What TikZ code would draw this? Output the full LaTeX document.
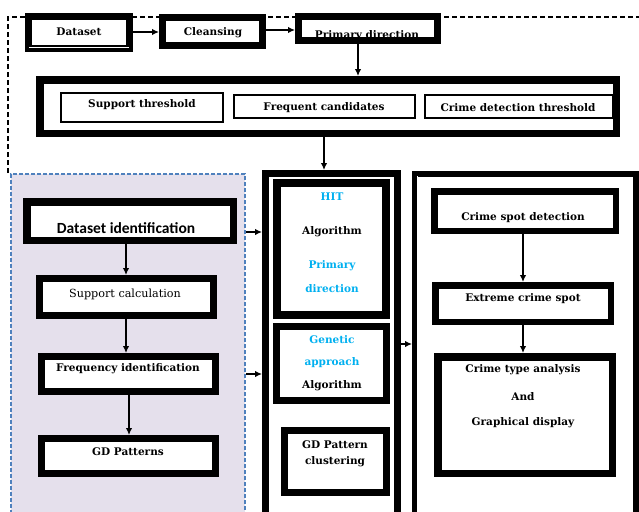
\documentclass[tikz,border=0pt]{standalone}
\usepackage{fontspec}
\setmainfont{DejaVu Serif}
\newfontfamily\calfont{Carlito}
\usetikzlibrary{arrows.meta}
\definecolor{lav}{RGB}{229,224,236}
\definecolor{dblue}{RGB}{79,129,189}
\definecolor{cyantxt}{RGB}{0,176,240}
\newcommand\bx[6]{\node[draw=black,fill=white,line width=#6pt,inner sep=0pt,
  minimum width={(#4-#2-#6)*1pt},minimum height={(#5-#3-#6)*1pt}] (#1) at ({(#2+#4)/2},{(#3+#5)/2}) {};}
\tikzset{
  lbl/.style={font=\fontsize{10.5}{12}\selectfont\bfseries,inner sep=0pt},
  cyl/.style={lbl,text=cyantxt},
  arr/.style={-{Latex[length=7pt,width=6.5pt]},line width=1.8pt},
}
\begin{document}
\begin{tikzpicture}[x=1pt,y=-1pt]
\clip (0,0) rectangle (639,511);
\fill[white] (0,0) rectangle (639,511);
% outer dashed frame
\coordinate (fa) at (8,173);
\coordinate (fb) at (8,17);
\coordinate (fc) at (645,17);
\draw[line width=1.8pt,dash pattern=on 5pt off 3pt] (fa) -- (fb) -- (fc);
% top row
\bx{ds}{25}{13}{133}{52}{7}
\draw[white,line width=0.8pt] (29,47) -- (129,47);
\node[lbl] (tds) at (79,32) {Dataset};
\bx{cl}{159}{14}{266}{49}{7}
\node[lbl] (tcl) at (213,33) {Cleansing};
\bx{pd}{295}{13}{441}{44}{7}
\node[lbl,anchor=base] (tpd) at (367,39) {Primary direction};
\fill (295,37) rectangle (441,44);
\draw[arr] (ds.east |- 0,32) -- (cl.west |- 0,32);
\draw[arr] (cl.east |- 0,30) -- (pd.west |- 0,30);
% threshold box
\bx{big}{36}{76}{620}{137}{7.5}
\draw[arr] (pd.south -| 358,0) -- (big.north -| 358,0);
\bx{st}{60}{92}{224}{123}{2}
\node[lbl] (tst) at (142,105) {Support threshold};
\bx{fc}{233}{94}{416}{119}{2}
\node[lbl] (tfc) at (324,108) {Frequent candidates};
\bx{cd}{424}{94}{614}{119}{2}
\fill (613,84) rectangle (620,130);
\node[lbl] (tcd) at (518,108) {Crime detection threshold};
% purple region
\node[draw=dblue,fill=lav,line width=1.8pt,dash pattern=on 4pt off 2pt,inner sep=0pt,
  minimum width=234pt,minimum height=360pt,anchor=north west] (pur) at (10,173) {};
\bx{di}{23}{198}{237}{244}{7.5}
\node[font=\calfont\fontsize{15.5}{17}\selectfont\bfseries,inner sep=0pt] (tdi) at (126,228) {Dataset identification};
\bx{sc}{36}{275}{217}{319}{7}
\node[font=\fontsize{11.2}{13}\selectfont,inner sep=0pt] (tsc) at (125,294) {Support calculation};
\bx{fi}{38}{353}{219}{395}{7}
\node[lbl] (tfi) at (128,369) {Frequency identification};
\bx{gd}{38}{435}{219}{477}{7}
\node[lbl] (tgd) at (128,452) {GD Patterns};
\draw[arr] (di.south -| 126,0) -- (sc.north -| 126,0);
\draw[arr] (sc.south -| 126,0) -- (fi.north -| 126,0);
\draw[arr] (fi.south -| 129,0) -- (gd.north -| 129,0);
% middle column
\bx{mid}{262}{170}{401}{540}{7}
\draw[arr] (big.south -| 324,0) -- (mid.north -| 324,0);
\draw[arr] (pur.east |- 0,232) -- (mid.west |- 0,232);
\draw[arr] (pur.east |- 0,374) -- (mid.west |- 0,374);
\bx{hit}{273}{179}{390}{319}{8}
\node[cyl] (h1) at (332,197) {HIT};
\node[lbl] (h2) at (332,232) {Algorithm};
\node[cyl] (h3) at (332,266) {Primary};
\node[cyl] (h4) at (332,289) {direction};
\bx{gen}{273}{323}{390}{404}{7}
\node[cyl] (g1) at (332,340) {Genetic};
\node[cyl] (g2) at (332,363) {approach};
\node[lbl] (g3) at (332,386) {Algorithm};
\bx{gdc}{281}{427}{390}{496}{7}
\node[lbl] (c1) at (335,445) {GD Pattern};
\node[lbl] (c2) at (335,462) {clustering};
% right column
\bx{rt}{412}{171}{639}{540}{6}
\draw[white,line width=0.8pt] (417,176) -- (417,540);
\draw[arr] (mid.east |- 0,344) -- (rt.west |- 0,344);
\bx{csd}{431}{188}{619}{234}{6.5}
\node[lbl] (tcsd) at (523,218) {Crime spot detection};
\bx{ecs}{432}{282}{614}{325}{6.5}
\node[lbl] (tecs) at (523,299) {Extreme crime spot};
\bx{cta}{434}{353}{616}{477}{7.5}
\node[lbl] (r1) at (523,370) {Crime type analysis};
\node[lbl] (r2) at (523,397) {And};
\node[lbl] (r3) at (523,423) {Graphical display};
\draw[arr] (csd.south -| 523,0) -- (ecs.north -| 523,0);
\draw[arr] (ecs.south -| 523,0) -- (cta.north -| 523,0);
\end{tikzpicture}
\end{document}
